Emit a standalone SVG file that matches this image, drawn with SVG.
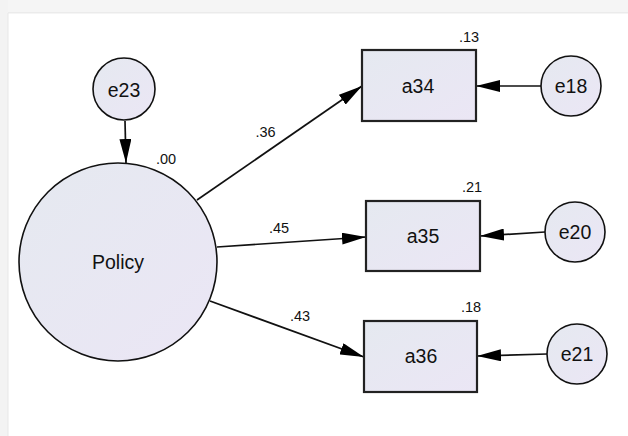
<svg xmlns="http://www.w3.org/2000/svg" width="628" height="436" viewBox="0 0 628 436">
<style>
.nd{fill:url(#g);stroke:#111;stroke-width:1.6}
.bx{fill:url(#g);stroke:#222;stroke-width:2.2}
.lb{font-family:"Liberation Sans",Arial,sans-serif;font-size:19.5px;fill:#111;text-anchor:middle}
.sm{font-family:"Liberation Sans",Arial,sans-serif;font-size:14.5px;fill:#111;text-anchor:middle}
.cn line{stroke:#111;stroke-width:1.7;marker-end:url(#ah)}
</style>
<defs>
<linearGradient id="g" x1="0" y1="0" x2="1" y2="1">
<stop offset="0" stop-color="#e5e9f0"/>
<stop offset="1" stop-color="#ebe6f5"/>
</linearGradient>
<marker id="ah" markerUnits="userSpaceOnUse" markerWidth="24" markerHeight="12" refX="24" refY="6" orient="auto">
<path d="M0,0 L24,6 L0,12 z" fill="#000"/>
</marker>
</defs>
<rect x="0" y="0" width="628" height="436" fill="#fff"/>
<rect x="0" y="0" width="628" height="12" fill="#f5f5f5"/>
<rect x="0" y="12" width="628" height="1.5" fill="#ebebeb"/>
<rect x="0" y="0" width="8" height="436" fill="#f3f3f3"/>
<rect x="7.5" y="13" width="1" height="423" fill="#e8e8e8"/>

<g class="cn" id="connectors">
<line x1="125" y1="121" x2="126" y2="163"/>
<line x1="197" y1="200" x2="362" y2="86"/>
<line x1="217" y1="247" x2="366" y2="237"/>
<line x1="210" y1="301" x2="364" y2="357"/>
<line x1="541" y1="86" x2="476" y2="86"/>
<line x1="545" y1="232" x2="480" y2="236"/>
<line x1="547" y1="354" x2="477" y2="356"/>
</g>

<g id="labels">
<text class="sm" x="166" y="163.5">.00</text>
<text class="sm" x="265.5" y="137">.36</text>
<text class="sm" x="279" y="233">.45</text>
<text class="sm" x="300" y="321">.43</text>
</g>

<g id="e23"><circle class="nd" cx="124" cy="89" r="31"/><text class="lb" x="124" y="96.5">e23</text></g>
<g id="Policy"><circle class="nd" cx="118" cy="262" r="99"/><text class="lb" x="118" y="268.5">Policy</text></g>
<g id="a34"><rect class="bx" x="362" y="50" width="114" height="71"/><text class="lb" x="418" y="92.5">a34</text><text class="sm" x="469" y="42">.13</text></g>
<g id="a35"><rect class="bx" x="366" y="201" width="114" height="70"/><text class="lb" x="423" y="242.5">a35</text><text class="sm" x="472" y="192">.21</text></g>
<g id="a36"><rect class="bx" x="364" y="321" width="113" height="71"/><text class="lb" x="421" y="363">a36</text><text class="sm" x="471" y="312">.18</text></g>
<g id="e18"><circle class="nd" cx="571" cy="86" r="30"/><text class="lb" x="571" y="92.5">e18</text></g>
<g id="e20"><circle class="nd" cx="575" cy="232" r="30"/><text class="lb" x="575" y="238.5">e20</text></g>
<g id="e21"><circle class="nd" cx="577" cy="354" r="30"/><text class="lb" x="577" y="361">e21</text></g>
</svg>
